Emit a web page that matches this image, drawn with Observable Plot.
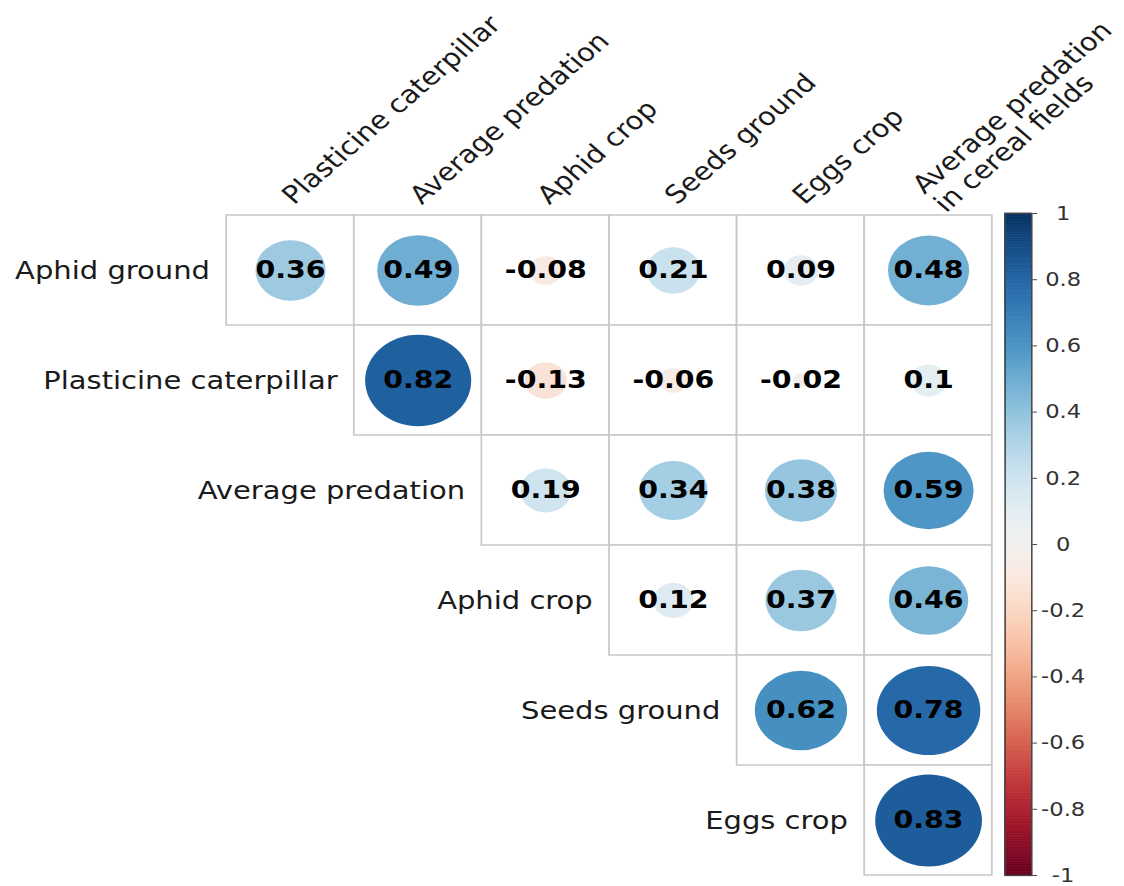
<!DOCTYPE html>
<html>
<head>
<meta charset="utf-8">
<script src="https://cdn.jsdelivr.net/npm/d3@7"></script>
<script src="https://cdn.jsdelivr.net/npm/@observablehq/plot@0.6"></script>
<style>
  html, body { margin: 0; padding: 0; background: white; }
  #chart { position: relative; width: 969px; height: 886px; transform: scaleX(1.16); transform-origin: 0 0; }
  #chart svg { position: absolute; left: 0; top: 0; }
</style>
</head>
<body>
<div id="chart"></div>
<script>
// Row variables (top to bottom)
const rows = ["Aphid ground", "Plasticine caterpillar", "Average predation", "Aphid crop", "Seeds ground", "Eggs crop"];
// Column variables (left to right)
const cols = ["Plasticine caterpillar", "Average predation", "Aphid crop", "Seeds ground", "Eggs crop", "Average predation in cereal fields"];
const colLabels = ["Plasticine caterpillar", "Average predation", "Aphid crop", "Seeds ground", "Eggs crop", "Average predation\nin cereal fields"];

// Correlation values per row (upper triangle, starting at the row's own column)
const aphidGround = [0.36, 0.49, -0.08, 0.21, 0.09, 0.48];
const plasticineCaterpillar = [0.82, -0.13, -0.06, -0.02, 0.1];
const averagePredation = [0.19, 0.34, 0.38, 0.59];
const aphidCrop = [0.12, 0.37, 0.46];
const seedsGround = [0.62, 0.78];
const eggsCrop = [0.83];

// Colorbar tick values
const colorTicks = [-1, -0.8, -0.6, -0.4, -0.2, 0, 0.2, 0.4, 0.6, 0.8, 1];

const rowValues = [aphidGround, plasticineCaterpillar, averagePredation, aphidCrop, seedsGround, eggsCrop];
const cells = [];
rowValues.forEach((vals, i) => {
  vals.forEach((v, k) => cells.push({row: rows[i], col: cols[i + k], value: v}));
});
const rowLabelData = rows.map((r, i) => ({row: r, col: cols[i], label: r}));
const colLabelData = cols.map((c, i) => ({col: c, label: colLabels[i]}));
const colSingle = colLabelData.filter(d => !d.label.includes("\n"));
const colMulti = colLabelData.filter(d => d.label.includes("\n"));

const FONT = "DejaVu Sans";
const colorScale = {type: "linear", scheme: "rdbu", domain: [-1, 1]};

const main = Plot.plot({
  width: 969, height: 886,
  marginTop: 215, marginBottom: 11, marginLeft: 193, marginRight: 112,
  x: {type: "band", domain: cols, padding: 0, axis: null},
  y: {type: "band", domain: rows, padding: 0, axis: null},
  r: {type: "sqrt", domain: [0, 1], range: [0, 50.5]},
  color: colorScale,
  style: {fontFamily: FONT, background: "white"},
  marks: [
    Plot.cell(cells, {x: "col", y: "row", fill: "white", stroke: "#c8c8c8", strokeWidth: 1.5, inset: 0}),
    Plot.dot(cells, {x: "col", y: "row", r: d => Math.abs(d.value), fill: "value"}),
    Plot.text(cells, {x: "col", y: "row", text: d => String(d.value), fontSize: 24.5, fontWeight: "bold", fill: "black"}),
    Plot.text(rowLabelData, {x: "col", y: "row", text: "label", textAnchor: "end", dx: -69.5, fontSize: 25, fill: "#1a1a1a"}),
    Plot.text(colSingle, {x: "col", frameAnchor: "top", text: "label", rotate: -45, textAnchor: "start", lineAnchor: "bottom", dx: 3, dy: -10, fontSize: 25, fill: "#1a1a1a"}),
    Plot.text(colMulti, {x: "col", frameAnchor: "top", text: "label", rotate: -45, textAnchor: "start", lineAnchor: "bottom", dx: 15, dy: -2, lineHeight: 1.05, fontSize: 25, fill: "#1a1a1a"})
  ]
});

const steps = d3.range(-1, 1, 0.005);
const bar = Plot.plot({
  width: 969, height: 886,
  marginTop: 213, marginBottom: 11, marginLeft: 866, marginRight: 80,
  x: {domain: [0, 1], axis: null},
  y: {domain: [-1, 1], axis: null},
  color: colorScale,
  style: {fontFamily: FONT, background: "transparent"},
  marks: [
    Plot.rect(steps, {x1: 0, x2: 1, y1: d => d, y2: d => d + 0.005, fill: d => d + 0.0025, stroke: d => d + 0.0025, strokeWidth: 0.6}),
    Plot.frame({stroke: "#444", strokeWidth: 1.3}),
    Plot.axisY(colorTicks, {anchor: "right", tickSize: 4, tickPadding: 23, textAnchor: "middle", tickFormat: d => String(+d.toFixed(1)), fontSize: 19.5, stroke: "#444", fill: "#333"})
  ]
});

const chart = document.getElementById("chart");
chart.appendChild(main);
chart.appendChild(bar);
</script>
</body>
</html>
